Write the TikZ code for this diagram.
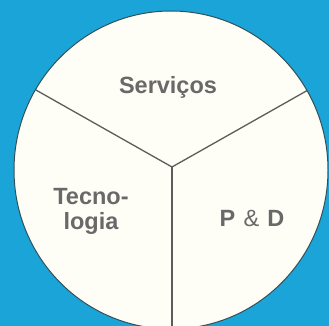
\documentclass[tikz,border=0pt]{standalone}
\usepackage{fontspec}
\setmainfont{Liberation Sans}
\usetikzlibrary{calc}
\definecolor{bgblue}{RGB}{26,164,216}
\definecolor{cream}{RGB}{254,254,246}
\definecolor{divline}{RGB}{92,92,92}
\definecolor{rimcol}{RGB}{50,80,90}
\definecolor{txtgray}{RGB}{105,105,105}
\tikzset{
  lbl/.style={text=txtgray, font=\bfseries\fontsize{23.5}{25}\selectfont, anchor=base, inner sep=0pt, align=center},
  divider/.style={draw=divline, line width=1.3pt},
  rim/.style={draw=rimcol, line width=1pt}
}
\begin{document}
\begin{tikzpicture}[x=1pt,y=-1pt]
\useasboundingbox (0,0) rectangle (329,326);
\fill[bgblue] (0,0) rectangle (329,326);
\coordinate (c) at (171,170);
\fill[cream] (c) ellipse [x radius=157, y radius=159];
\coordinate (hub) at (172,167);
\coordinate (endL) at ($(hub)+(-173.2,-98)$);
\coordinate (endR) at ($(hub)+(173.2,-98)$);
\coordinate (endD) at ($(hub)+(0,200)$);
\begin{scope}
\clip (c) ellipse [x radius=157, y radius=159];
\draw[divider] (endL) -- (hub) -- (endR);
\draw[divider] (hub) -- (endD);
\end{scope}
\draw[rim] (c) ellipse [x radius=157, y radius=159];
\node[lbl] (serv) at (168,94) {Serviços};
\node[lbl] (tec) at (91,204) {Tecno-};
\node[lbl] (log) at (91,229) {logia};
\node[lbl] (pd) at (252,226) {P\hspace{0.35em}{\mdseries\&}\hspace{0.35em}D};
\end{tikzpicture}
\end{document}
